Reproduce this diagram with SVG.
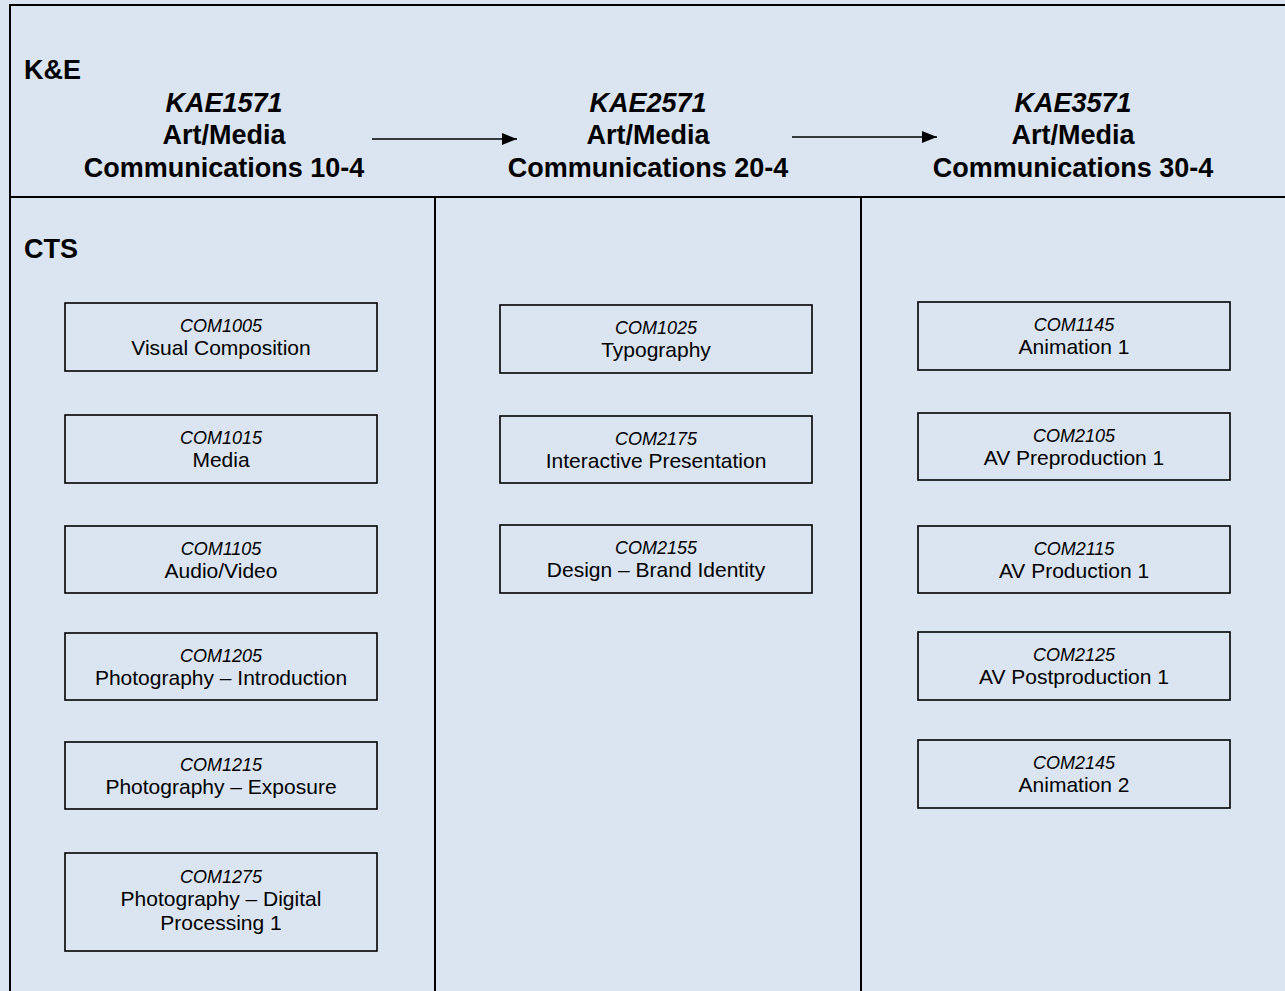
<svg xmlns="http://www.w3.org/2000/svg" width="1285" height="991" viewBox="0 0 1285 991">
<style>
.bg{fill:#dbe5f1}
.frame{fill:none;stroke:#000;stroke-width:2}
.box{fill:#dbe5f1;stroke:#000;stroke-width:1.6}
.code{font-family:"Liberation Sans",Arial,sans-serif;font-size:18px;font-style:italic;fill:#000;text-anchor:middle}
.title{font-family:"Liberation Sans",Arial,sans-serif;font-size:21px;fill:#000;text-anchor:middle}
.hd{font-family:"Liberation Sans",Arial,sans-serif;font-size:27px;font-weight:bold;fill:#000;text-anchor:middle}
.hdi{font-style:italic}
.lbl{font-family:"Liberation Sans",Arial,sans-serif;font-size:27px;font-weight:bold;fill:#000}
.conn{stroke:#000;stroke-width:1.4;fill:none}
</style>
<defs>
<marker id="ah" markerWidth="15" markerHeight="12" refX="15" refY="6" orient="auto" markerUnits="userSpaceOnUse">
<path d="M0,0 L15,6 L0,12 Z" fill="#000"/>
</marker>
</defs>
<rect class="bg" x="0" y="0" width="1285" height="991"/>
<g id="frame">
<path class="frame" d="M10,991 V5 H1285"/>
<path class="frame" d="M10,197 H1285"/>
<path class="frame" d="M435,197 V991"/>
<path class="frame" d="M861,197 V991"/>
</g>
<g id="labels">
<text class="lbl" x="24" y="79">K&amp;E</text>
<text class="lbl" x="24" y="258">CTS</text>
</g>
<g id="header1">
<text class="hd hdi" x="224" y="112">KAE1571</text>
<text class="hd" x="224" y="144">Art/Media</text>
<text class="hd" x="224" y="177">Communications 10-4</text>
</g>
<g id="header2">
<text class="hd hdi" x="648" y="112">KAE2571</text>
<text class="hd" x="648" y="144">Art/Media</text>
<text class="hd" x="648" y="177">Communications 20-4</text>
</g>
<g id="header3">
<text class="hd hdi" x="1073" y="112">KAE3571</text>
<text class="hd" x="1073" y="144">Art/Media</text>
<text class="hd" x="1073" y="177">Communications 30-4</text>
</g>
<g id="connectors">
<line class="conn" x1="372" y1="139" x2="517" y2="139" marker-end="url(#ah)"/>
<line class="conn" x1="792" y1="137" x2="937" y2="137" marker-end="url(#ah)"/>
</g>
<g id="COM1005"><rect class="box" x="65" y="303" width="312" height="68"/><text class="code" x="221" y="332">COM1005</text><text class="title" x="221" y="355">Visual Composition</text></g>
<g id="COM1015"><rect class="box" x="65" y="415" width="312" height="68"/><text class="code" x="221" y="444">COM1015</text><text class="title" x="221" y="467">Media</text></g>
<g id="COM1105"><rect class="box" x="65" y="526" width="312" height="67"/><text class="code" x="221" y="555">COM1105</text><text class="title" x="221" y="578">Audio/Video</text></g>
<g id="COM1205"><rect class="box" x="65" y="633" width="312" height="67"/><text class="code" x="221" y="662">COM1205</text><text class="title" x="221" y="685">Photography – Introduction</text></g>
<g id="COM1215"><rect class="box" x="65" y="742" width="312" height="67"/><text class="code" x="221" y="771">COM1215</text><text class="title" x="221" y="794">Photography – Exposure</text></g>
<g id="COM1275"><rect class="box" x="65" y="853" width="312" height="98"/><text class="code" x="221" y="883">COM1275</text><text class="title" x="221" y="906">Photography – Digital</text><text class="title" x="221" y="930">Processing 1</text></g>
<g id="COM1025"><rect class="box" x="500" y="305" width="312" height="68"/><text class="code" x="656" y="334">COM1025</text><text class="title" x="656" y="357">Typography</text></g>
<g id="COM2175"><rect class="box" x="500" y="416" width="312" height="67"/><text class="code" x="656" y="445">COM2175</text><text class="title" x="656" y="468">Interactive Presentation</text></g>
<g id="COM2155"><rect class="box" x="500" y="525" width="312" height="68"/><text class="code" x="656" y="554">COM2155</text><text class="title" x="656" y="577">Design – Brand Identity</text></g>
<g id="COM1145"><rect class="box" x="918" y="302" width="312" height="68"/><text class="code" x="1074" y="331">COM1145</text><text class="title" x="1074" y="354">Animation 1</text></g>
<g id="COM2105"><rect class="box" x="918" y="413" width="312" height="67"/><text class="code" x="1074" y="442">COM2105</text><text class="title" x="1074" y="465">AV Preproduction 1</text></g>
<g id="COM2115"><rect class="box" x="918" y="526" width="312" height="67"/><text class="code" x="1074" y="555">COM2115</text><text class="title" x="1074" y="578">AV Production 1</text></g>
<g id="COM2125"><rect class="box" x="918" y="632" width="312" height="68"/><text class="code" x="1074" y="661">COM2125</text><text class="title" x="1074" y="684">AV Postproduction 1</text></g>
<g id="COM2145"><rect class="box" x="918" y="740" width="312" height="68"/><text class="code" x="1074" y="769">COM2145</text><text class="title" x="1074" y="792">Animation 2</text></g>
</svg>
